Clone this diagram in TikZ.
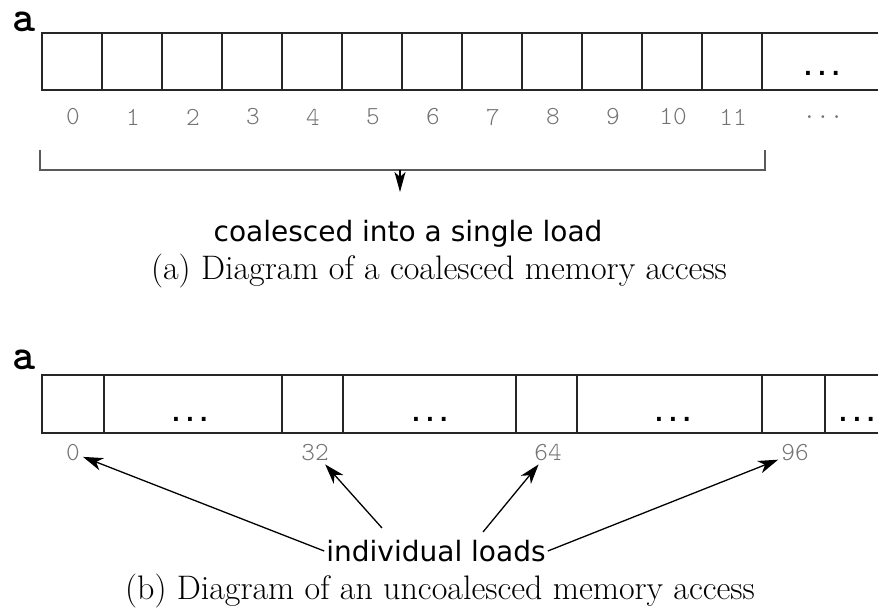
\documentclass[tikz,border=0pt]{standalone}
\usepackage{fontspec}
\usetikzlibrary{arrows.meta}
\newfontfamily\monofont[BoldFont=lmmonolt10-bold.otf]{lmmonolt10-regular.otf}
\newfontfamily\dotfont{DejaVu Sans Mono}
\newfontfamily\notefont{DejaVu Sans}

\begin{document}
\begin{tikzpicture}[x=1pt,y=-1pt,
  cell/.style={line width=2pt,draw=black!85},
  idx/.style={text=black!55,font=\monofont\fontsize{26}{26}\selectfont,inner sep=3pt},
  arrname/.style={font=\monofont\bfseries\fontsize{44}{44}\selectfont,inner sep=0pt},
  gap/.style={font=\dotfont\bfseries\fontsize{23}{23}\selectfont,inner sep=0pt},
  note/.style={font=\notefont\fontsize{28}{28}\selectfont,inner sep=2pt},
  capt/.style={font=\fontsize{34}{34}\selectfont,inner sep=0pt},
  load/.style={line width=1.3pt,-{Stealth[length=20pt,width=13pt,inset=6pt]}}]
\useasboundingbox (0,0) rectangle (878,610);

\node[arrname] (a1) at (24,22) {a};
\draw[cell] (878,33) -- (42,33) -- (42,90) -- (878,90);
\foreach \i in {1,...,12} \draw[cell] (42+60*\i,33) -- (42+60*\i,90);
\foreach \i in {0,...,11} \node[idx] (c\i) at (73+60*\i,117) {\i};
\node[gap] (more) at (822,73) {...};
\node[idx] (cmore) at (823,117) {...};
\coordinate (bl) at (40,150);
\coordinate (br) at (765,150);
\coordinate (bm) at (400,170);
\coordinate (bt) at (400,192);
\draw[black!65,line width=1.5pt] (bl) |- (bm) -| (br);
\draw[line width=1.3pt,-{Stealth[length=20pt,width=11pt,inset=5pt]}] (bm) -- (bt);
\node[note] (single) at (408,234) {coalesced into a single load};
\node[capt] (capa) at (439,271) {(a) Diagram of a coalesced memory access};

\node[arrname] (a2) at (24,360) {a};
\draw[cell] (878,375) -- (42,375) -- (42,433) -- (878,433);
\foreach \x in {104,282,343,516,577,762,825} \draw[cell] (\x,375) -- (\x,433);
\foreach \x/\n in {190/1,430/2,673/3,857/4} \node[gap] (gap\n) at (\x,419) {...};
\foreach \x/\n in {73/0,315/32,548/64,795/96} \node[idx] (i\n) at (\x,453) {\n};
\node[note] (loads) at (436,551) {individual loads};
\coordinate (t32) at (382,528);
\coordinate (t64) at (483,532);
\draw[load] (loads.west) -- (i0);
\draw[load] (t32) -- (i32);
\draw[load] (t64) -- (i64);
\draw[load] (loads.east) -- (i96);
\node[capt] (capb) at (440,591) {(b) Diagram of an uncoalesced memory access};
\end{tikzpicture}
\end{document}
